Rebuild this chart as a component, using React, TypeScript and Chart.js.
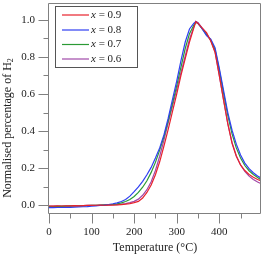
import React, { useEffect, useRef } from "react";
import { Chart, registerables } from "chart.js";

Chart.register(...registerables);

const temps = [0, 10, 20, 30, 40, 50, 60, 70, 80, 90, 100, 110, 120, 130, 140, 150, 160, 170, 180, 190, 200, 210, 220, 230, 240, 250, 260, 270, 280, 290, 300, 310, 320, 330, 340, 345, 350, 360, 370, 380, 390, 400, 410, 420, 430, 440, 450, 460, 470, 480, 490, 500];

const red09 = [-0.003, -0.004, -0.002, -0.003, -0.002, -0.002, -0.001, -0.002, -0.001, 0.0, 0.0, 0.001, 0.002, 0.001, 0.002, 0.002, 0.003, 0.005, 0.007, 0.01, 0.015, 0.022, 0.04, 0.07, 0.11, 0.165, 0.235, 0.32, 0.41, 0.505, 0.6, 0.7, 0.79, 0.88, 0.955, 0.99, 0.98, 0.955, 0.93, 0.885, 0.825, 0.7, 0.57, 0.44, 0.335, 0.265, 0.218, 0.188, 0.167, 0.152, 0.14, 0.13];
const blue08 = [-0.012, -0.012, -0.011, -0.011, -0.01, -0.01, -0.009, -0.008, -0.007, -0.006, -0.004, -0.002, 0.0, 0.002, 0.005, 0.009, 0.014, 0.021, 0.032, 0.05, 0.074, 0.1, 0.13, 0.165, 0.205, 0.255, 0.31, 0.38, 0.47, 0.57, 0.67, 0.78, 0.88, 0.95, 0.98, 0.99, 0.98, 0.95, 0.915, 0.895, 0.85, 0.74, 0.62, 0.5, 0.405, 0.33, 0.272, 0.228, 0.198, 0.176, 0.159, 0.145];
const green07 = [-0.006, -0.006, -0.005, -0.005, -0.004, -0.004, -0.003, -0.003, -0.002, -0.001, 0.0, 0.001, 0.002, 0.003, 0.004, 0.006, 0.009, 0.014, 0.021, 0.032, 0.048, 0.07, 0.098, 0.133, 0.178, 0.232, 0.298, 0.37, 0.455, 0.548, 0.645, 0.745, 0.845, 0.925, 0.97, 0.985, 0.98, 0.95, 0.92, 0.89, 0.84, 0.73, 0.605, 0.485, 0.385, 0.31, 0.255, 0.215, 0.187, 0.167, 0.15, 0.136];
const purple06 = [-0.004, -0.004, -0.003, -0.003, -0.003, -0.002, -0.002, -0.001, -0.001, 0.0, 0.0, 0.001, 0.001, 0.002, 0.003, 0.004, 0.005, 0.007, 0.01, 0.015, 0.022, 0.034, 0.055, 0.085, 0.128, 0.188, 0.265, 0.352, 0.445, 0.535, 0.625, 0.715, 0.805, 0.895, 0.96, 0.99, 0.985, 0.955, 0.925, 0.888, 0.828, 0.7, 0.568, 0.44, 0.338, 0.268, 0.218, 0.183, 0.158, 0.14, 0.126, 0.115];

const seriesLabels = ["0.9", "0.8", "0.7", "0.6"];
const seriesColors = ["#e8222c", "#2f3ff2", "#2b9a35", "#a048a8"];
const seriesValues = [red09, blue08, green07, purple06];

const xMajorTicks = [0, 100, 200, 300, 400];
const xMinorTicks = [50, 150, 250, 350, 450];
const yMajorTicks = [0, 0.2, 0.4, 0.6, 0.8, 1.0];
const yMinorTicks = [0.1, 0.3, 0.5, 0.7, 0.9];

const xTitle = "Temperature (°C)";
const yTitleMain = "Normalised percentage of H";
const yTitleSub = "2";

const FONT = "'Liberation Serif', 'Times New Roman', serif";
const AXIS_COLOR = "#808080";
const TEXT_COLOR = "#222";

const decorPlugin = {
  id: "decor",
  afterDraw(chart: any) {
    const { ctx, chartArea } = chart;
    const xs = chart.scales.x;
    const ys = chart.scales.y;
    const L = chartArea.left - 0.5;
    const R = chartArea.right - 0.5;
    const T = chartArea.top + 0.5;
    const B = chartArea.bottom - 0.5;
    ctx.save();
    ctx.strokeStyle = AXIS_COLOR;
    ctx.lineWidth = 1;
    ctx.beginPath();
    ctx.rect(L, T, R - L, B - T);
    ctx.stroke();
    ctx.beginPath();
    for (const v of yMajorTicks) {
      const y = Math.round(ys.getPixelForValue(v)) + 0.5;
      ctx.moveTo(L - 10, y);
      ctx.lineTo(L, y);
    }
    for (const v of yMinorTicks) {
      const y = Math.round(ys.getPixelForValue(v)) + 0.5;
      ctx.moveTo(L - 5, y);
      ctx.lineTo(L, y);
    }
    for (const v of xMajorTicks) {
      const x = Math.round(xs.getPixelForValue(v)) + 0.5;
      ctx.moveTo(x, B);
      ctx.lineTo(x, B + 10);
    }
    for (const v of xMinorTicks) {
      const x = Math.round(xs.getPixelForValue(v)) + 0.5;
      ctx.moveTo(x, B);
      ctx.lineTo(x, B + 5);
    }
    ctx.stroke();

    // axis titles
    ctx.fillStyle = TEXT_COLOR;
    ctx.font = `12px ${FONT}`;
    ctx.textAlign = "center";
    ctx.textBaseline = "middle";
    ctx.fillText(xTitle, (chartArea.left + chartArea.right) / 2, 248);

    ctx.save();
    ctx.translate(8, 128);
    ctx.rotate(-Math.PI / 2);
    ctx.font = `12px ${FONT}`;
    const wMain = ctx.measureText(yTitleMain).width;
    ctx.font = `8px ${FONT}`;
    const wSub = ctx.measureText(yTitleSub).width;
    const total = wMain + wSub;
    ctx.textAlign = "left";
    ctx.font = `12px ${FONT}`;
    ctx.fillText(yTitleMain, -total / 2, 0);
    ctx.font = `8px ${FONT}`;
    ctx.fillText(yTitleSub, -total / 2 + wMain, 3);
    ctx.restore();

    // legend
    const bx = 55.5, by = 6.5, bw = 82, bh = 61;
    ctx.fillStyle = "#fff";
    ctx.fillRect(bx, by, bw, bh);
    ctx.strokeStyle = "#555";
    ctx.lineWidth = 1;
    ctx.strokeRect(bx, by, bw, bh);
    const rowY = [15, 30, 44.5, 59];
    seriesLabels.forEach((lab, i) => {
      const y = rowY[i];
      ctx.strokeStyle = seriesColors[i];
      ctx.lineWidth = 1.2;
      ctx.beginPath();
      ctx.moveTo(62, y);
      ctx.lineTo(89, y);
      ctx.stroke();
      ctx.fillStyle = TEXT_COLOR;
      ctx.textAlign = "left";
      ctx.textBaseline = "middle";
      ctx.font = `italic 11px ${FONT}`;
      ctx.fillText("x", 91, y);
      const wx = ctx.measureText("x").width;
      ctx.font = `11px ${FONT}`;
      ctx.fillText(" = " + lab, 91 + wx, y);
    });
    ctx.restore();
  },
};

const zeroPad = (s: any) => {
  s.paddingTop = 0;
  s.paddingBottom = 0;
  s.paddingLeft = 0;
  s.paddingRight = 0;
};

export default function App() {
  const ref = useRef<HTMLCanvasElement | null>(null);
  useEffect(() => {
    document.body.style.margin = "0";
    const canvas = ref.current;
    if (!canvas) return;
    const datasets = seriesValues.map((vals, i) => ({
      label: "x = " + seriesLabels[i],
      data: temps.map((t, j) => ({ x: t, y: vals[j] })),
      borderColor: seriesColors[i],
      backgroundColor: seriesColors[i],
      borderWidth: 1.2,
      pointRadius: 0,
      tension: 0,
      fill: false,
    }));
    const chart = new Chart(canvas, {
      type: "line",
      data: { datasets },
      options: {
        animation: false,
        responsive: false,
        devicePixelRatio: 1,
        layout: { padding: { top: 3, right: 2, left: 0, bottom: 0 } },
        plugins: { legend: { display: false }, tooltip: { enabled: false }, title: { display: false } },
        scales: {
          x: {
            type: "linear",
            min: 0,
            max: 498,
            grid: { display: false, drawTicks: false },
            border: { display: false },
            afterFit: (s: any) => { s.height = 41; zeroPad(s); },
            afterBuildTicks: (s: any) => { s.ticks = xMajorTicks.map((v) => ({ value: v })); },
            ticks: {
              padding: 12,
              maxRotation: 0,
              autoSkip: false,
              color: TEXT_COLOR,
              font: { family: FONT, size: 11 },
              callback: (v: any) => String(v),
            },
          },
          y: {
            type: "linear",
            min: -0.046,
            max: 1.09,
            grid: { display: false, drawTicks: false },
            border: { display: false },
            afterFit: (s: any) => { s.width = 49; zeroPad(s); },
            afterBuildTicks: (s: any) => { s.ticks = yMajorTicks.map((v) => ({ value: v })); },
            ticks: {
              padding: 14,
              autoSkip: false,
              color: TEXT_COLOR,
              font: { family: FONT, size: 11 },
              callback: (v: any) => Number(v).toFixed(1),
            },
          },
        },
      },
      plugins: [decorPlugin],
    });
    return () => chart.destroy();
  }, []);
  return (
    <div style={{ width: 263, height: 255 }}>
      <canvas ref={ref} width={263} height={255} style={{ display: "block" }} />
    </div>
  );
}
